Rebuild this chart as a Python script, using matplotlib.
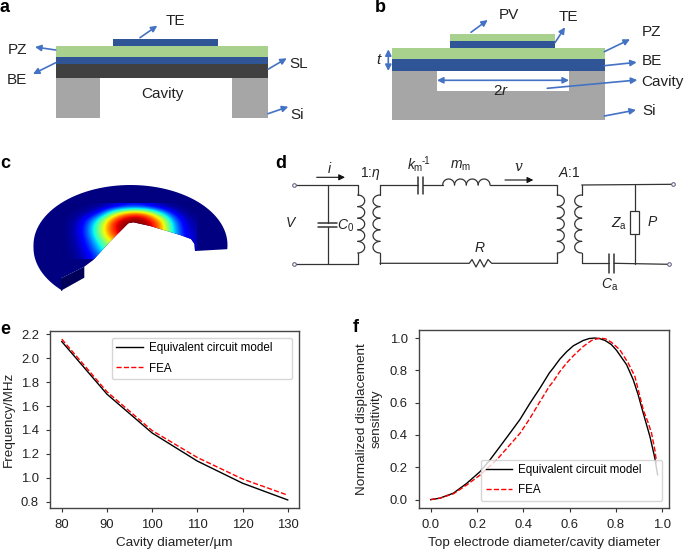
import matplotlib
matplotlib.use('Agg')
import matplotlib.pyplot as plt
import numpy as np
from matplotlib.patches import Polygon, Rectangle

plt.rcParams['font.family'] = ['Liberation Sans', 'DejaVu Sans']
plt.rcParams['mathtext.fontset'] = 'custom'
plt.rcParams['mathtext.rm'] = 'Liberation Sans'
plt.rcParams['mathtext.it'] = 'Liberation Sans:italic'

W, H = 685, 551
GREEN = '#a9d18e'
BLUE = '#2f5597'
DARK = '#404040'
GREY = '#a6a6a6'
ARROW = '#4472c4'
WIRE = '#333333'

# panel e
cavity_diameter = [80, 90, 100, 110, 120, 130]
freq_circuit = [2.14, 1.70, 1.375, 1.14, 0.955, 0.815]
freq_fea = [2.16, 1.72, 1.395, 1.17, 0.99, 0.855]
e_xticks = [80, 90, 100, 110, 120, 130]
e_yticks = [0.8, 1.0, 1.2, 1.4, 1.6, 1.8, 2.0, 2.2]

# panel f
ratio_circuit = [0, 0.04, 0.098, 0.155, 0.213, 0.256, 0.299, 0.342, 0.386, 0.429, 0.472, 0.512, 0.529,
                 0.558, 0.587, 0.616, 0.659, 0.685, 0.709, 0.73, 0.753, 0.78, 0.803, 0.846, 0.875,
                 0.896, 0.918, 0.947, 0.968, 0.98]
sens_circuit = [0, 0.009, 0.04, 0.10, 0.173, 0.246, 0.328, 0.411, 0.497, 0.597, 0.69, 0.783, 0.814,
                0.87, 0.915, 0.952, 0.985, 0.997, 1.0, 0.996, 0.985, 0.96, 0.923, 0.835, 0.741,
                0.649, 0.535, 0.39, 0.257, 0.153]
ratio_fea = [0, 0.04, 0.098, 0.155, 0.213, 0.285, 0.342, 0.386, 0.429, 0.472, 0.512, 0.529, 0.558,
             0.587, 0.616, 0.659, 0.695, 0.731, 0.755, 0.781, 0.817, 0.853, 0.882, 0.90, 0.918,
             0.94, 0.954, 0.968, 0.976]
sens_fea = [0, 0.009, 0.036, 0.09, 0.152, 0.246, 0.339, 0.411, 0.504, 0.607, 0.70, 0.731, 0.793,
            0.845, 0.89, 0.948, 0.985, 1.0, 0.995, 0.973, 0.927, 0.845, 0.762, 0.659, 0.556,
            0.473, 0.41, 0.308, 0.226]
f_ticks = [0.0, 0.2, 0.4, 0.6, 0.8, 1.0]

# panel c, displacement read by eye on a coarse grid
c_cols = [70, 85, 100, 115, 130, 145, 160, 175, 190]
c_rows = [207, 214, 221, 228, 235, 242, 249, 256]
c_disp = [[0, 0, .01, .05, .12, .10, .03, 0, 0],
          [0, .02, .12, .58, .88, .85, .42, .08, 0],
          [0, .10, .42, .92, 1.0, 1.0, .80, .22, .02],
          [0, .13, .52, .95, 1.0, 1.0, .85, .28, .03],
          [0, .13, .50, .90, 1.0, 1.0, .80, .30, .05],
          [0, .10, .40, .70, .90, .90, .70, .30, .05],
          [0, .08, .32, .60, .80, .80, .60, .30, .05],
          [0, .05, .22, .50, .70, .70, .50, .20, .02]]


def box(ax, x0, y0, x1, y1, color, z=2):
    ax.add_patch(Rectangle((x0, y0), x1 - x0, y1 - y0, facecolor=color, edgecolor='none', zorder=z))


def arrow(ax, start, end, style='-|>', color=ARROW, lw=1.2, ms=9):
    ax.annotate('', xy=end, xytext=start, zorder=5,
                arrowprops=dict(arrowstyle=style, color=color, lw=lw, mutation_scale=ms,
                                shrinkA=0, shrinkB=0))


def label(ax, x, y, s, size=11, **kw):
    ax.text(x, y, s, fontsize=size, ha='center', va='center', color='#222222', **kw)


def wire(ax, xs, ys, lw=0.9):
    ax.plot(xs, ys, color=WIRE, lw=lw, solid_capstyle='round', zorder=3)


def coil_v(ax, x, y0, y1, n, side):
    t = np.linspace(0, np.pi, 20)
    h = (y1 - y0) / n
    for i in range(n):
        wire(ax, x + side * 7 * np.sin(t), y0 + h * i + h * (1 - np.cos(t)) / 2)


def coil_h(ax, x0, x1, y, n):
    t = np.linspace(0, np.pi, 20)
    w = (x1 - x0) / n
    for i in range(n):
        wire(ax, x0 + w * i + w * (1 - np.cos(t)) / 2, y - 6 * np.sin(t))


fig = plt.figure(figsize=(W / 100, H / 100), dpi=100)
bg = fig.add_axes([0, 0, 1, 1])
bg.set_xlim(0, W)
bg.set_ylim(H, 0)
bg.axis('off')

# panel letters
for x, y, s in [(5, 8, 'a'), (380.7, 8, 'b'), (5, 164, 'c'), (281, 163, 'd'), (5, 329, 'e'), (356, 328, 'f')]:
    bg.text(x, y, s, fontsize=13, fontweight='bold', ha='center', va='center', color='black')

# panel a
box(bg, 113, 38.7, 218.3, 46.3, BLUE)
box(bg, 55.7, 46.3, 268, 57, GREEN)
box(bg, 55.7, 57, 268, 64.3, BLUE)
box(bg, 55.7, 64.3, 268, 77.7, DARK)
box(bg, 55.7, 77.7, 100, 118, GREY)
box(bg, 231.7, 77.7, 268, 118, GREY)
arrow(bg, (140, 37.7), (157.3, 25.7))
arrow(bg, (55.7, 50), (35, 47))
arrow(bg, (55.7, 62.7), (33, 74))
arrow(bg, (268, 69.3), (286.7, 58.3))
arrow(bg, (268, 113.7), (288.3, 106.7))
label(bg, 175.7, 20.7, 'TE')
label(bg, 17.7, 50, 'PZ')
label(bg, 17.3, 80, 'BE')
label(bg, 299, 64, 'SL')
label(bg, 296.7, 115, 'Si')
label(bg, 162.7, 94.3, 'Cavity')

# panel b
box(bg, 450.3, 33.7, 555, 41, GREEN)
box(bg, 450.3, 41, 555, 48, BLUE)
box(bg, 392.3, 48, 604.7, 58.7, GREEN)
box(bg, 392.3, 58.7, 604.7, 71.3, BLUE)
box(bg, 392.3, 71.3, 604.7, 120, GREY)
box(bg, 437, 71.3, 569, 90.7, 'white')
arrow(bg, (471, 32.3), (487.7, 20))
arrow(bg, (555, 42.7), (565, 27.3))
arrow(bg, (604.3, 51.7), (630, 39.3))
arrow(bg, (604.3, 65.7), (636.7, 62.3))
arrow(bg, (547.3, 88.3), (637.3, 80))
arrow(bg, (604.3, 116), (636, 110))
arrow(bg, (388.3, 49.3), (388.3, 71), style='<|-|>')
arrow(bg, (437, 80.3), (569, 80.3), style='<|-|>')
label(bg, 509.3, 15.3, 'PV')
label(bg, 568.7, 16.7, 'TE')
label(bg, 651.7, 32, 'PZ')
label(bg, 652, 61.3, 'BE')
label(bg, 662.5, 81.7, 'Cavity')
label(bg, 649, 110.7, 'Si')
label(bg, 378.3, 60, 't', style='italic')
label(bg, 500.7, 91, '2$\\mathit{r}$')

# panel c
side_face = Polygon([(61, 278.3), (84.3, 266.7), (84.3, 277.7), (61, 290.7)],
                    facecolor='#00005a', edgecolor='none', zorder=3)
top_ang = np.radians(np.linspace(-4, 180, 60))
low_ang = np.radians(np.linspace(180, 226, 16))
ring_xy = list(zip(130.5 + 97 * np.cos(top_ang), 245 - 60 * np.sin(top_ang)))
ring_xy += list(zip(130.5 + 97 * np.cos(low_ang), 248 - 60 * np.sin(low_ang)))
ring_xy += [(61, 290.7), (61, 278.3), (84.3, 266.7), (93.3, 260), (110, 241.7), (128.3, 223.3), (133.3, 222.3),
            (150, 226), (166.7, 231), (180, 235), (191, 239), (194.5, 244), (195, 251)]
ring = Polygon(ring_xy, facecolor='#000080', edgecolor='none', zorder=2)
bg.add_patch(ring)
bg.add_patch(side_face)
heat = bg.imshow(np.array(c_disp), cmap='jet', vmin=0, vmax=1, interpolation='bicubic', aspect='auto',
                 extent=(c_cols[0] - 7.5, c_cols[-1] + 7.5, c_rows[-1] + 3.5, c_rows[0] - 3.5), zorder=2.5)
heat.set_clip_path(ring)
bg.set_xlim(0, W)
bg.set_ylim(H, 0)

# panel d, wires
wire(bg, [294, 357.7], [185, 185])
wire(bg, [294, 357.7], [263.7, 263.7])
wire(bg, [327.7, 327.7], [185, 222.5])
wire(bg, [327.7, 327.7], [226.7, 263.7])
wire(bg, [318.3, 337.3], [222.5, 222.5], lw=1.1)
wire(bg, [318.3, 337.3], [226.7, 226.7], lw=1.1)
wire(bg, [357.7, 357.7], [185, 195])
wire(bg, [357.7, 357.7], [253, 263.7])
coil_v(bg, 357.7, 195, 253, 5, 1)
wire(bg, [380, 380], [185, 195])
wire(bg, [380, 380], [253, 263.7])
coil_v(bg, 380, 195, 253, 5, -1)
wire(bg, [380, 417.7], [185, 185])
wire(bg, [417.7, 417.7], [176.7, 194.3], lw=1.1)
wire(bg, [422.7, 422.7], [176.7, 194.3], lw=1.1)
wire(bg, [422.7, 442.7], [185, 185])
coil_h(bg, 442.7, 490, 185, 4)
wire(bg, [490, 557.3], [185, 185])
wire(bg, [557.3, 557.3], [185, 195])
wire(bg, [557.3, 557.3], [253, 263.3])
coil_v(bg, 557.3, 195, 253, 5, 1)
wire(bg, [581.7, 581.7], [185, 195])
wire(bg, [581.7, 581.7], [253, 263.3])
coil_v(bg, 581.7, 195, 253, 5, -1)
wire(bg, [380, 469.3, 472, 476, 480, 484, 488, 491.7, 557.3],
     [263.3, 263.3, 259.5, 267, 259.5, 267, 259.5, 263.3, 263.3])
wire(bg, [581.7, 672.7], [185, 184.3])
wire(bg, [581.7, 609.3], [263.3, 263.3])
wire(bg, [609.3, 609.3], [254.3, 273.3], lw=1.1)
wire(bg, [614, 614], [254.3, 273.3], lw=1.1)
wire(bg, [614, 669.3], [263.3, 264.3])
wire(bg, [635, 635], [185, 263.7])
bg.add_patch(Rectangle((630, 210.7), 9.3, 23, facecolor='white', edgecolor=WIRE, lw=0.9, zorder=4))
bg.plot([294, 294, 672.7, 669.3], [185, 263.7, 184.3, 264.3], ls='none', marker='o', ms=2.6,
        mfc='white', mec='#666688', mew=0.8, zorder=5)
arrow(bg, (316.7, 177.3), (345, 177.3), color='#111111', lw=0.8, ms=9)
arrow(bg, (505, 180), (533.3, 180), color='#111111', lw=0.8, ms=9)
label(bg, 329.3, 169.3, 'i', size=10, style='italic')
label(bg, 370, 173.3, '1:$\\mathit{\\eta}$', size=10)
label(bg, 415, 165, '$\\mathit{k}_{\\mathrm{m}}$', size=10)
label(bg, 426, 161, '-1', size=7)
label(bg, 461, 166, '$\\mathit{m}_{\\mathrm{m}}$', size=10)
label(bg, 518.3, 167.3, 'v', size=10, style='italic', family='DejaVu Serif')
label(bg, 569.3, 173.3, '$\\mathit{A}$:1', size=10)
label(bg, 290, 223.3, 'V', size=10, style='italic')
label(bg, 346, 226, '$\\mathit{C}_{0}$', size=10)
label(bg, 479.3, 248.3, 'R', size=10, style='italic')
label(bg, 619, 224, '$\\mathit{Z}_{\\mathrm{a}}$', size=10)
label(bg, 652.3, 222.3, 'P', size=10, style='italic')
label(bg, 609.3, 285, '$\\mathit{C}_{\\mathrm{a}}$', size=10)

# panel e
ax_e = fig.add_axes([50 / W, 1 - 507.7 / H, 249 / W, 176.7 / H])
ax_e.plot(cavity_diameter, freq_circuit, color='black', lw=1, label='Equivalent circuit model')
ax_e.plot(cavity_diameter, freq_fea, color='red', lw=1, ls='--', label='FEA')
ax_e.set_xlim(77.4, 132.5)
ax_e.set_ylim(0.75, 2.228)
ax_e.set_xticks(e_xticks)
ax_e.set_yticks(e_yticks)
ax_e.set_yticklabels(['%.1f' % v for v in e_yticks])
ax_e.set_xlabel('Cavity diameter/\u00b5m', fontsize=9.7)
ax_e.set_ylabel('Frequency/MHz', fontsize=9.7)
ax_e.xaxis.set_label_coords(0.5, -0.167)
ax_e.yaxis.set_label_coords(-0.143, 0.502)
ax_e.legend(loc='upper left', bbox_to_anchor=(0.248, 0.732, 0.725, 0.230), mode='expand', borderaxespad=0,
            fontsize=8.4, handlelength=2.3, handletextpad=0.45, labelspacing=0.7)

# panel f
ax_f = fig.add_axes([419 / W, 1 - 507.7 / H, 250.3 / W, 178 / H])
ax_f.plot(ratio_circuit, sens_circuit, color='black', lw=1, label='Equivalent circuit model')
ax_f.plot(ratio_fea, sens_fea, color='red', lw=1, ls='--', label='FEA')
ax_f.set_xlim(-0.0505, 1.0305)
ax_f.set_ylim(-0.05, 1.0515)
ax_f.set_xticks(f_ticks)
ax_f.set_yticks(f_ticks)
ax_f.set_xlabel('Top electrode diameter/cavity diameter', fontsize=9.7)
ax_f.set_ylabel('Normalized displacement\nsensitivity', fontsize=9.7, linespacing=1.3)
ax_f.xaxis.set_label_coords(0.5, -0.166)
ax_f.yaxis.set_label_coords(-0.147, 0.5)
ax_f.legend(loc='lower left', bbox_to_anchor=(0.2477, 0.0376, 0.7243, 0.232), mode='expand', borderaxespad=0,
            fontsize=8.4, handlelength=2.3, handletextpad=0.45, labelspacing=0.7)

for ax in (ax_e, ax_f):
    ax.tick_params(labelsize=9.4, length=3, width=0.8, color='#333333', labelcolor='#222222', pad=5)
    ax.xaxis.label.set_color('#222222')
    ax.yaxis.label.set_color('#222222')
    for sp in ax.spines.values():
        sp.set_color('#444444')
        sp.set_linewidth(1)

fig.savefig('out.png', dpi=100)
